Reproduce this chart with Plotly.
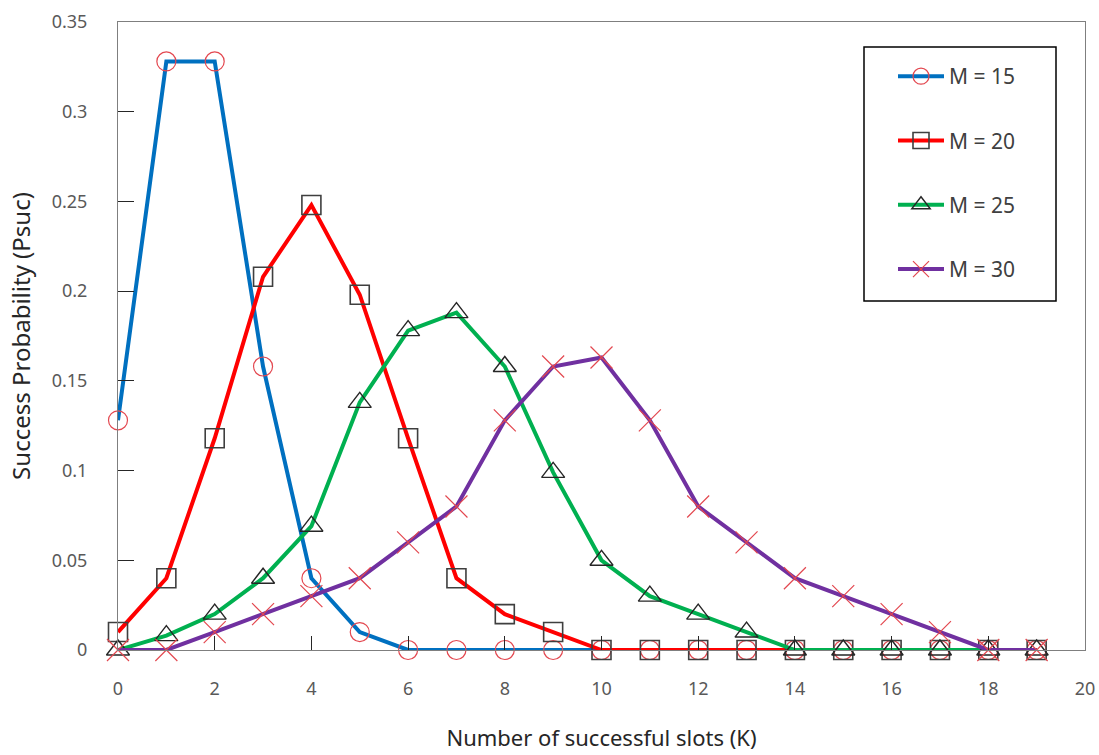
import plotly.graph_objects as go

# Number of successful slots K
k_values = list(range(20))

# Success probability for each number of contending devices M
psuc_m15 = [0.128, 0.328, 0.328, 0.158, 0.040, 0.010, 0, 0, 0, 0,
            0, 0, 0, 0, 0, 0, 0, 0, 0, 0]
psuc_m20 = [0.010, 0.040, 0.118, 0.208, 0.248, 0.198, 0.118, 0.040, 0.020, 0.010,
            0, 0, 0, 0, 0, 0, 0, 0, 0, 0]
psuc_m25 = [0, 0.008, 0.020, 0.040, 0.069, 0.138, 0.178, 0.188, 0.158, 0.099,
            0.050, 0.030, 0.020, 0.010, 0, 0, 0, 0, 0, 0]
psuc_m30 = [0, 0, 0.010, 0.020, 0.030, 0.040, 0.060, 0.080, 0.128, 0.158,
            0.163, 0.128, 0.080, 0.060, 0.040, 0.030, 0.020, 0.010, 0, 0]

series_names = ["M = 15", "M = 20", "M = 25", "M = 30"]
x_ticks = [0, 2, 4, 6, 8, 10, 12, 14, 16, 18, 20]
y_ticks = [0, 0.05, 0.1, 0.15, 0.2, 0.25, 0.3, 0.35]
y_tick_text = ["0", "0.05", "0.1", "0.15", "0.2", "0.25", "0.3", "0.35"]

styles = [
    dict(line="#0070C0", symbol="circle-open", mcolor="#E3474F", mwidth=1.2, size=19),
    dict(line="#FF0000", symbol="square-open", mcolor="#3F3F3F", mwidth=1.6, size=19),
    dict(line="#00B050", symbol="triangle-up-open", mcolor="#262626", mwidth=1.4, size=20),
    dict(line="#7030A0", symbol="x-thin-open", mcolor="#E3474F", mwidth=1.2, size=22),
]

fig = go.Figure()
for name, ys, st in zip(series_names, [psuc_m15, psuc_m20, psuc_m25, psuc_m30], styles):
    fig.add_trace(go.Scatter(
        x=k_values, y=ys, name=name, legendgroup=name,
        mode="lines+markers",
        line=dict(color=st["line"], width=4),
        marker=dict(symbol=st["symbol"], size=st["size"], color=st["mcolor"],
                    line=dict(color=st["mcolor"], width=st["mwidth"])),
        cliponaxis=False,
    ))

# Plot-area geometry in pixels (for placing the legend frame)
W, H = 1099, 755
ml, mr, mt, mb = 118, 14, 22, 105
pw, ph = W - ml - mr, H - mt - mb


def px_x(p):
    return (p - ml) / pw


def px_y(p):
    return (H - mb - p) / ph


fig.add_shape(type="rect", xref="paper", yref="paper",
              x0=px_x(864), x1=px_x(1056), y0=px_y(301), y1=px_y(47),
              line=dict(color="#000000", width=1.5), fillcolor="rgba(0,0,0,0)")

axis_font = dict(family="Noto Sans", size=18, color="#595959")

fig.update_layout(
    width=W, height=H,
    margin=dict(l=ml, r=mr, t=mt, b=mb),
    paper_bgcolor="white", plot_bgcolor="white",
    font=dict(family="Noto Sans", color="#404040"),
    showlegend=True,
    legend=dict(
        x=px_x(893), y=px_y(56), xanchor="left", yanchor="top",
        bgcolor="rgba(0,0,0,0)", borderwidth=0,
        font=dict(family="Noto Sans", size=21, color="#404040"),
        tracegroupgap=34, itemwidth=46, traceorder="grouped",
    ),
    xaxis=dict(
        range=[0, 20], tickvals=x_ticks, ticktext=[str(v) for v in x_ticks],
        ticks="inside", ticklen=14, tickcolor="#262626", tickwidth=1,
        showline=True, linecolor="#7F7F7F", linewidth=1, mirror=True,
        showgrid=False, zeroline=False, automargin=False,
        tickfont=axis_font, ticklabelstandoff=22,
        title=dict(text="Number of successful slots (K)",
                   font=dict(family="Noto Sans", size=22, color="#262626"),
                   standoff=32),
    ),
    yaxis=dict(
        range=[0, 0.35], tickvals=y_ticks, ticktext=y_tick_text,
        ticks="inside", ticklen=16, tickcolor="#262626", tickwidth=1,
        showline=True, linecolor="#7F7F7F", linewidth=1, mirror=True,
        showgrid=False, zeroline=False, automargin=False,
        tickfont=axis_font, ticklabelstandoff=26,
        title=dict(text="Success Probability (Psuc)",
                   font=dict(family="Noto Sans", size=24, color="#262626"),
                   standoff=14),
    ),
)

fig.write_html("out.html")
